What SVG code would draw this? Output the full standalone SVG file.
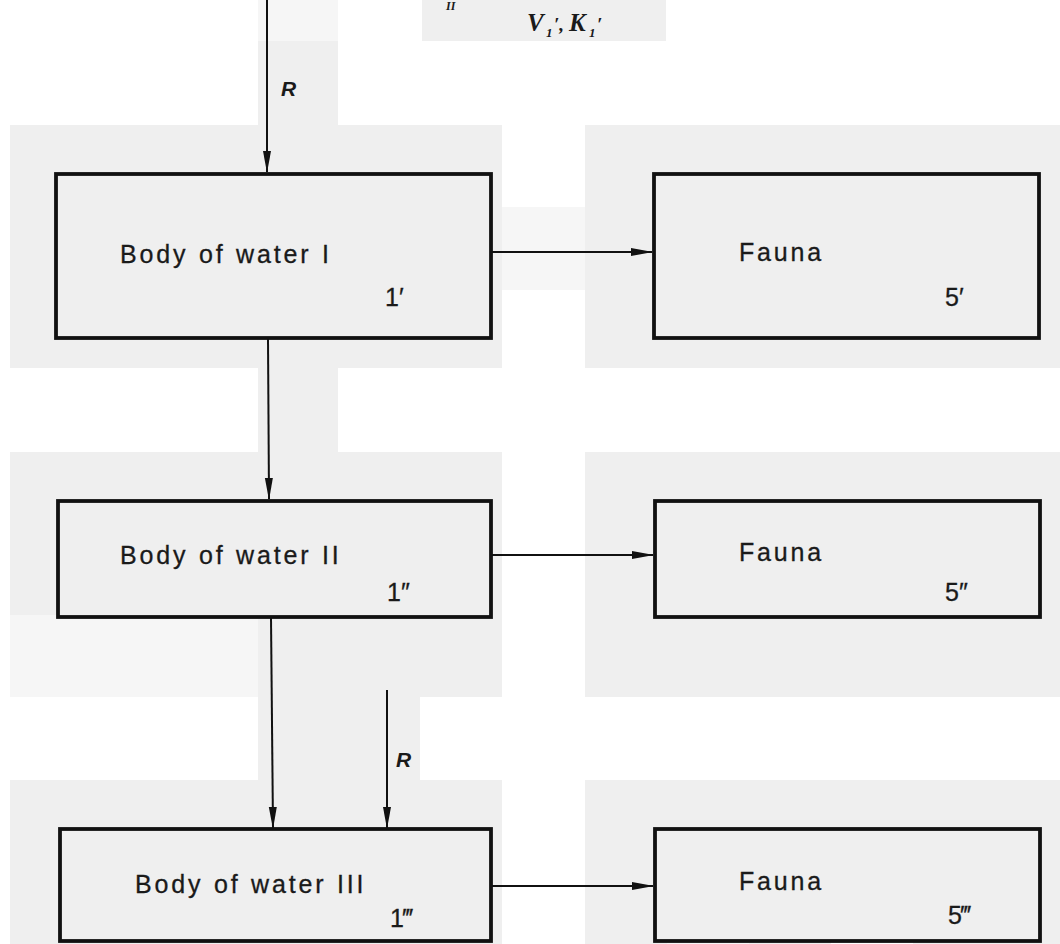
<svg xmlns="http://www.w3.org/2000/svg" width="1060" height="944" viewBox="0 0 1060 944">
<style>
.bg{fill:#efefef}
.bgl{fill:#f6f6f6}
.box{fill:#efefef;stroke:#111;stroke-width:3.8}
.lbl{font-family:"Liberation Sans",Arial,sans-serif;font-size:25px;letter-spacing:2.8px;word-spacing:1px;fill:#1a1a1a;stroke:#1a1a1a;stroke-width:0.3}
.num{font-family:"Liberation Sans",Arial,sans-serif;font-size:25px;fill:#1a1a1a;stroke:#1a1a1a;stroke-width:0.3}
.r{font-family:"Liberation Sans",Arial,sans-serif;font-size:21px;font-weight:bold;font-style:italic;fill:#1a1a1a}
.eq{font-family:"Liberation Serif","Times New Roman",serif;font-style:italic;font-weight:bold;fill:#1a1a1a}
.ln{stroke:#111;stroke-width:2;fill:none;marker-end:url(#ah)}
</style>
<defs>
<marker id="ah" markerWidth="22" markerHeight="9" refX="21" refY="4.5" orient="auto" markerUnits="userSpaceOnUse" viewBox="0 0 22 9">
<path d="M0,0.5 L22,4.5 L0,8.5 z" fill="#111"/>
</marker>
</defs>
<rect width="1060" height="944" fill="#fff"/>
<g id="background">
<rect class="bg" x="422" y="0" width="244" height="41"/>
<rect class="bgl" x="258" y="0" width="80" height="41"/>
<rect class="bg" x="258" y="41" width="80" height="84"/>
<rect class="bg" x="10" y="125" width="492" height="243"/>
<rect class="bg" x="585" y="125" width="475" height="243"/>
<rect class="bgl" x="502" y="207" width="83" height="83"/>
<rect class="bg" x="258" y="368" width="80" height="84"/>
<rect class="bg" x="10" y="452" width="492" height="163"/>
<rect class="bgl" x="10" y="615" width="248" height="82"/>
<rect class="bg" x="258" y="615" width="244" height="82"/>
<rect class="bg" x="585" y="452" width="475" height="245"/>
<rect class="bg" x="258" y="697" width="162" height="83"/>
<rect class="bg" x="10" y="780" width="492" height="164"/>
<rect class="bg" x="585" y="780" width="475" height="164"/>
<rect class="bgl" x="340" y="205" width="82" height="82"/>
<rect class="bgl" x="667" y="205" width="82" height="82"/>
<rect fill="#fafafa" x="831" y="205" width="82" height="82"/>
<rect class="bgl" x="913" y="205" width="82" height="82"/>
<rect fill="#f8f8f8" x="831" y="533" width="82" height="82"/>
<rect class="bgl" x="667" y="861" width="82" height="83"/>
<rect fill="#fefefe" x="831" y="861" width="82" height="83"/>
</g>
<g id="equation">
<text class="eq" x="446" y="10" font-size="12">II</text>
<text class="eq" x="527" y="31" font-size="25">V</text>
<text class="eq" x="546" y="37" font-size="13">1</text>
<text class="eq" x="554" y="31" font-size="19">′,</text>
<text class="eq" x="569" y="31" font-size="25">K</text>
<text class="eq" x="589" y="37" font-size="13">1</text>
<text class="eq" x="597" y="31" font-size="19">′</text>
</g>
<g id="connectors">
<line class="ln" x1="267" y1="0" x2="267" y2="172"/>
<line class="ln" x1="491" y1="252" x2="652" y2="252"/>
<line class="ln" x1="268" y1="339" x2="269" y2="499"/>
<line class="ln" x1="491" y1="555" x2="653" y2="555"/>
<line class="ln" x1="271" y1="618" x2="273" y2="828"/>
<line class="ln" x1="387" y1="690" x2="387" y2="828"/>
<line class="ln" x1="491" y1="886" x2="653" y2="886"/>
<text class="r" x="281" y="96">R</text>
<text class="r" x="396" y="767">R</text>
</g>
<g id="body1">
<rect class="box" x="56" y="174" width="435" height="164"/>
<text class="lbl" x="120" y="263">Body of water I</text>
<text class="num" x="385" y="306">1′</text>
</g>
<g id="fauna1">
<rect class="box" x="654" y="174" width="385" height="164"/>
<text class="lbl" x="739" y="261">Fauna</text>
<text class="num" x="945" y="306">5′</text>
</g>
<g id="body2">
<rect class="box" x="58" y="501" width="433" height="116"/>
<text class="lbl" x="120" y="564">Body of water II</text>
<text class="num" x="387" y="601">1″</text>
</g>
<g id="fauna2">
<rect class="box" x="655" y="501" width="385" height="116"/>
<text class="lbl" x="739" y="561">Fauna</text>
<text class="num" x="945" y="601">5″</text>
</g>
<g id="body3">
<rect class="box" x="60" y="829" width="431" height="112"/>
<text class="lbl" x="135" y="893">Body of water III</text>
<text class="num" x="390" y="927">1‴</text>
</g>
<g id="fauna3">
<rect class="box" x="655" y="829" width="385" height="112"/>
<text class="lbl" x="739" y="890">Fauna</text>
<text class="num" x="948" y="924">5‴</text>
</g>
</svg>
